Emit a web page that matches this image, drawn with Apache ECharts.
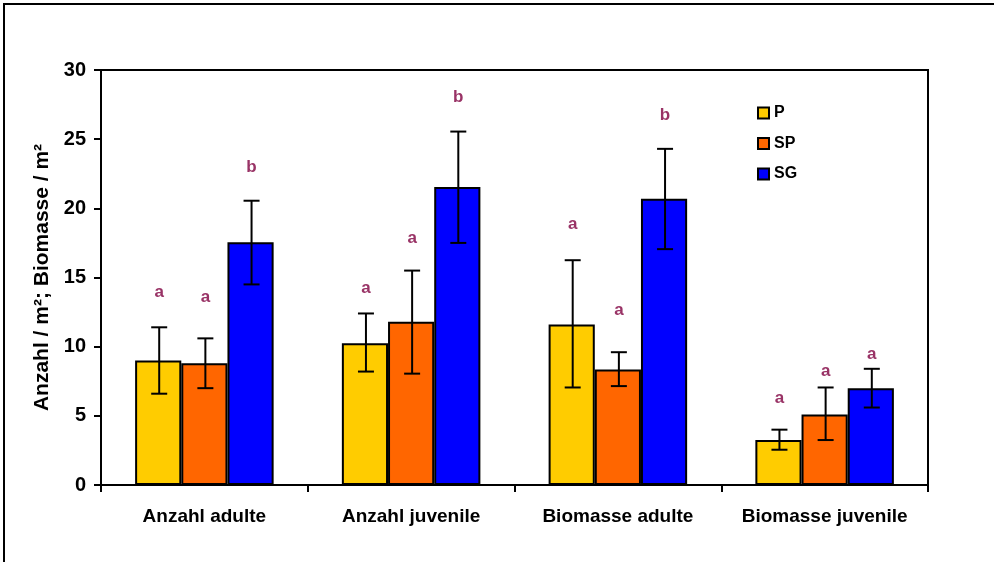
<!DOCTYPE html>
<html>
<head>
<meta charset="utf-8">
<script src="https://cdn.jsdelivr.net/npm/echarts@6/dist/echarts.min.js"></script>
<style>
  html, body { margin: 0; padding: 0; background: #fff; }
  #chart { width: 994px; height: 562px; }
</style>
</head>
<body>
<div id="chart"></div>
<script>
  const categories = ['Anzahl adulte', 'Anzahl juvenile', 'Biomasse adulte', 'Biomasse juvenile'];
  const seriesNames = ['P', 'SP', 'SG'];
  const colors = ['#FFCC00', '#FF6600', '#0000FF'];

  const meanP = [9.0, 10.25, 11.6, 3.25];
  const meanSP = [8.8, 11.8, 8.35, 5.1];
  const meanSG = [17.55, 21.55, 20.7, 7.0];

  const errLowP = [6.6, 8.2, 7.05, 2.55];
  const errHighP = [11.4, 12.4, 16.25, 4.0];
  const errLowSP = [7.0, 8.05, 7.15, 3.25];
  const errHighSP = [10.6, 15.5, 9.6, 7.05];
  const errLowSG = [14.5, 17.5, 17.05, 5.6];
  const errHighSG = [20.55, 25.55, 24.3, 8.4];

  // significance letters and the value height where each one sits
  const lettersP = ['a', 'a', 'a', 'a'];
  const lettersSP = ['a', 'a', 'a', 'a'];
  const lettersSG = ['b', 'b', 'b', 'a'];
  const letterYP = [13.9, 14.25, 18.85, 6.3];
  const letterYSP = [13.55, 17.8, 12.6, 8.25];
  const letterYSG = [23.0, 28.05, 26.75, 9.45];

  const font = '"Liberation Sans", Arial, sans-serif';
  const gapRatio = 0.33;

  const means = [meanP, meanSP, meanSG];
  const lows = [errLowP, errLowSP, errLowSG];
  const highs = [errHighP, errHighSP, errHighSG];
  const letters = [lettersP, lettersSP, lettersSG];
  const letterYs = [letterYP, letterYSP, letterYSG];

  function barOffset(api, idx) {
    const band = api.size([1, 0])[0];
    const bw = band * (1 - gapRatio) / 3;
    return (idx - 1) * bw;
  }

  function errorRender(idx) {
    return (params, api) => {
      const hi = api.coord([api.value(0), api.value(2)]);
      const lo = api.coord([api.value(0), api.value(1)]);
      const x = hi[0] + barOffset(api, idx) + 1;
      const cap = 8;
      const style = {stroke: '#000', lineWidth: 2};
      return {
        type: 'group',
        children: [
          {type: 'line', shape: {x1: x, y1: hi[1], x2: x, y2: lo[1]}, style: style},
          {type: 'line', shape: {x1: x - cap, y1: hi[1], x2: x + cap, y2: hi[1]}, style: style},
          {type: 'line', shape: {x1: x - cap, y1: lo[1], x2: x + cap, y2: lo[1]}, style: style}
        ]
      };
    };
  }

  function letterRender(idx) {
    return (params, api) => {
      const p = api.coord([api.value(0), api.value(1)]);
      return {
        type: 'text',
        x: p[0] + barOffset(api, idx) + 1,
        y: p[1],
        style: {
          text: letters[idx][params.dataIndex],
          fill: '#993366',
          font: 'bold 17px ' + font,
          align: 'center',
          verticalAlign: 'middle'
        }
      };
    };
  }

  const series = [];
  seriesNames.forEach((name, i) => {
    series.push({
      type: 'bar',
      name: name,
      data: means[i],
      barGap: 0,
      barCategoryGap: (gapRatio * 100) + '%',
      itemStyle: {color: colors[i], borderColor: '#000', borderWidth: 2},
      emphasis: {disabled: true}
    });
  });
  seriesNames.forEach((name, i) => {
    series.push({
      type: 'custom',
      name: name + ' err',
      z: 5,
      renderItem: errorRender(i),
      encode: {x: 0, y: [1, 2]},
      data: categories.map((c, k) => [k, lows[i][k], highs[i][k]])
    });
    series.push({
      type: 'custom',
      name: name + ' sig',
      z: 6,
      renderItem: letterRender(i),
      encode: {x: 0, y: 1},
      data: categories.map((c, k) => [k, letterYs[i][k]])
    });
  });

  const option = {
    animation: false,
    backgroundColor: '#fff',
    textStyle: {fontFamily: font},
    grid: {
      left: 101, right: 66, top: 70, bottom: 77,
      show: true, borderColor: '#000', borderWidth: 2
    },
    legend: {
      data: seriesNames,
      orient: 'vertical',
      left: 757,
      top: 105,
      padding: 0,
      icon: 'rect',
      itemWidth: 11,
      itemHeight: 11,
      itemGap: 14.5,
      textStyle: {fontFamily: font, fontWeight: 'bold', fontSize: 16, color: '#000'}
    },
    xAxis: {
      type: 'category',
      data: categories,
      axisLine: {lineStyle: {color: '#000', width: 2}},
      axisTick: {show: true, interval: 0, length: 7, lineStyle: {color: '#000', width: 2}},
      axisLabel: {interval: 0, margin: 22, fontFamily: font, fontWeight: 'bold', fontSize: 19, color: '#000'}
    },
    yAxis: {
      type: 'value',
      min: 0,
      max: 30,
      interval: 5,
      name: 'Anzahl / m²; Biomasse / m²',
      nameLocation: 'middle',
      nameGap: 44,
      nameTextStyle: {fontFamily: font, fontWeight: 'bold', fontSize: 21, color: '#000'},
      axisLine: {show: true, lineStyle: {color: '#000', width: 2}},
      axisTick: {show: true, length: 7, lineStyle: {color: '#000', width: 2}},
      axisLabel: {margin: 15, fontFamily: font, fontWeight: 'bold', fontSize: 20, color: '#000'},
      splitLine: {show: false}
    },
    graphic: [{
      type: 'rect',
      silent: true,
      shape: {x: 4, y: 4, width: 1200, height: 800},
      style: {fill: 'none', stroke: '#000', lineWidth: 2}
    }],
    series: series
  };

  const chart = echarts.init(document.getElementById('chart'));
  chart.setOption(option);
</script>
</body>
</html>
